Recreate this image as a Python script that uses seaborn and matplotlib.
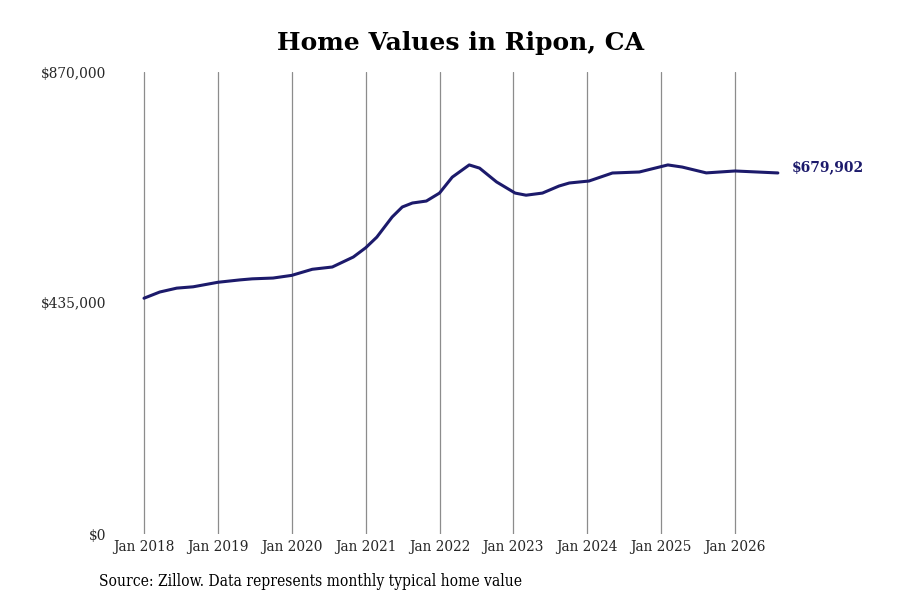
import pandas as pd
import numpy as np
import matplotlib
matplotlib.use("Agg")
import matplotlib.pyplot as plt
import matplotlib.dates as mdates
import seaborn as sns

# typical home value
dates = ["2018-01-01", "2018-03-20", "2018-06-12", "2018-09-01", "2019-01-01", "2019-04-20",
         "2019-06-20", "2019-10-01", "2020-01-01", "2020-04-12", "2020-07-20", "2020-11-01",
         "2021-01-01", "2021-02-25", "2021-05-12", "2021-07-01", "2021-08-20", "2021-10-28",
         "2022-01-01", "2022-03-05", "2022-05-28", "2022-07-18", "2022-10-10", "2023-01-10",
         "2023-03-05", "2023-05-25", "2023-08-15", "2023-10-05", "2024-01-10", "2024-05-05",
         "2024-09-15", "2025-02-03", "2025-04-15", "2025-08-12", "2026-01-01", "2026-08-01"]
values = [444000, 455700, 463000, 465500, 474000, 478500,
          480500, 482000, 487000, 498500, 502800, 521600,
          539000, 559000, 597000, 615800, 623300, 627000,
          642000, 672000, 695000, 689000, 663000, 642000,
          638000, 642000, 655300, 661000, 664700, 679800,
          681700, 695000, 691000, 680000, 683600, 679902]
tick_years = list(range(2018, 2027))
y_ticks = [0, 435000, 870000]

df = pd.DataFrame({"date": pd.to_datetime(dates), "value": values})

sns.set_theme(style="white")
plt.rcParams["font.family"] = ["DejaVu Serif"]

fig = plt.figure(figsize=(9, 6), dpi=100)
ax = fig.add_axes([115 / 900, 66 / 600, 675 / 900, 462 / 600])

sns.lineplot(data=df, x="date", y="value", ax=ax, color="#1c1a6b", linewidth=2.2,
             solid_joinstyle="round", solid_capstyle="round")

# x limits so Jan 2018 and Jan 2026 land where the reference has them
x0 = mdates.date2num(pd.Timestamp("2018-01-01"))
x1 = mdates.date2num(pd.Timestamp("2026-01-01"))
ppx = (x1 - x0) / (735 - 144)
ax.set_xlim(x0 - (144 - 115) * ppx, x0 + (790 - 144) * ppx)
ax.set_ylim(0, 870000)

ax.set_xticks([pd.Timestamp(f"{y}-01-01") for y in tick_years])
ax.set_xticklabels([f"Jan {y}" for y in tick_years], fontsize=11, fontstretch="condensed")
ax.set_yticks(y_ticks)
ax.set_yticklabels([f"${v:,.0f}" for v in y_ticks], fontsize=11, fontstretch="condensed")
ax.tick_params(axis="y", length=0, pad=6)
ax.tick_params(axis="x", length=0, pad=4)

ax.grid(axis="x", color="#8c8c8c", linewidth=0.9)
ax.grid(axis="y", visible=False)
for s in ax.spines.values():
    s.set_visible(False)
ax.set_xlabel("")
ax.set_ylabel("")

last = df.iloc[-1]
ax.annotate(f"${last['value']:,.0f}", xy=(last["date"], last["value"]),
            xytext=(10, 4), textcoords="offset points", fontsize=10,
            fontweight="bold", color="#1c1a6b", va="center", ha="left",
            annotation_clip=False)

fig.text(461 / 900, 1 - 43 / 600, "Home Values in Ripon, CA", ha="center", va="center",
         fontsize=18, fontweight="bold", color="black")
fig.text(99 / 900, 1 - 582 / 600, "Source: Zillow. Data represents monthly typical home value",
         ha="left", va="center", fontsize=11.2, fontstretch="condensed", color="black")

fig.savefig("out.png", dpi=100, facecolor="white")
